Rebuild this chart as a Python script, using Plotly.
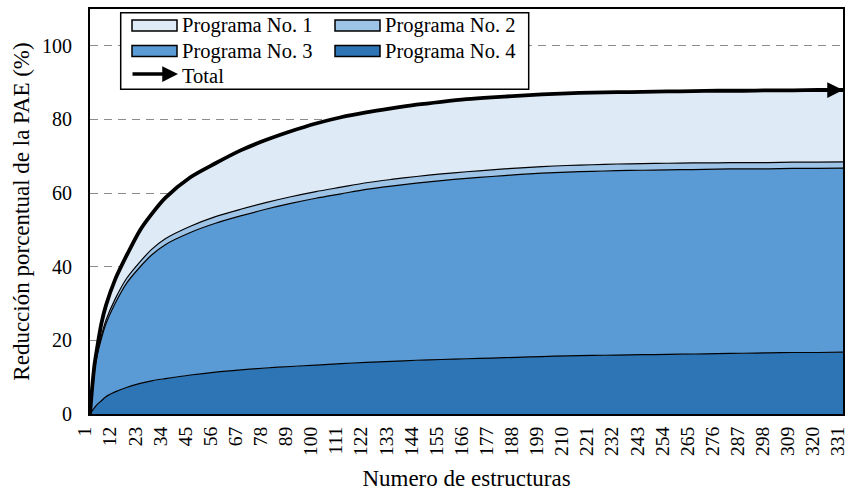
import plotly.graph_objects as go

# ---- data ----
n_estructuras = [1, 2, 3, 4, 6, 8, 12, 17, 23, 28, 34, 45, 56, 67, 78, 89, 100, 111, 122,
                 133, 144, 155, 166, 177, 188, 199, 210, 221, 232, 243, 254, 265, 276,
                 287, 298, 309, 320, 331]
total = [0, 7.5, 13.5, 17.5, 24.6, 29.5, 36.5, 43.0, 50.0, 54.3, 58.7, 64.3, 68.1, 71.6,
         74.4, 76.8, 78.9, 80.6, 81.9, 83.0, 84.0, 84.8, 85.5, 86.0, 86.4, 86.8, 87.1,
         87.3, 87.4, 87.5, 87.6, 87.7, 87.8, 87.8, 87.9, 87.9, 88.0, 88.0]
acum_p3 = [0, 6.5, 12.0, 15.5, 20.5, 24.5, 30.0, 35.5, 40.0, 43.2, 46.0, 49.3, 51.8, 53.8,
           55.6, 57.2, 58.6, 59.8, 61.0, 61.9, 62.7, 63.4, 64.0, 64.5, 65.0, 65.4, 65.7,
           65.9, 66.1, 66.2, 66.3, 66.4, 66.5, 66.6, 66.6, 66.7, 66.7, 66.8]
programa4 = [0, 0.9, 1.7, 2.5, 3.6, 4.7, 6.0, 7.2, 8.3, 9.0, 9.6, 10.6, 11.4, 12.0, 12.5,
             12.9, 13.3, 13.7, 14.0, 14.3, 14.6, 14.8, 15.0, 15.2, 15.4, 15.6, 15.8, 15.9,
             16.0, 16.1, 16.2, 16.3, 16.4, 16.5, 16.6, 16.7, 16.7, 16.8]
programa2 = [0, 0.3, 0.5, 0.6, 0.8, 1.0, 1.2, 1.3, 1.4, 1.5, 1.6, 1.7, 1.8, 1.8, 1.8, 1.8,
             1.8, 1.8, 1.8, 1.8, 1.8, 1.8, 1.8, 1.8, 1.8, 1.8, 1.8, 1.8, 1.8, 1.8, 1.8,
             1.8, 1.7, 1.7, 1.7, 1.7, 1.7, 1.7]
programa3 = [a - b for a, b in zip(acum_p3, programa4)]
programa1 = [t - a - p for t, a, p in zip(total, acum_p3, programa2)]

x_ticks = list(range(1, 332, 11))
y_ticks = [0, 20, 40, 60, 80, 100]

names = ["Programa No. 1", "Programa No. 2", "Programa No. 3", "Programa No. 4", "Total"]
colors = {"Programa No. 1": "#DEEAF6", "Programa No. 2": "#9DC3E6",
          "Programa No. 3": "#5B9BD5", "Programa No. 4": "#2E75B6"}

FONT = "Liberation Serif"

fig = go.Figure()
for nm, vals in [("Programa No. 4", programa4), ("Programa No. 3", programa3),
                 ("Programa No. 2", programa2), ("Programa No. 1", programa1)]:
    fig.add_trace(go.Scatter(
        x=n_estructuras, y=vals, name=nm, stackgroup="one", mode="lines",
        line=dict(color="black", width=1.2, shape="spline", smoothing=0.8),
        fillcolor=colors[nm], showlegend=False))

fig.add_trace(go.Scatter(
    x=n_estructuras, y=total, name="Total", mode="lines",
    line=dict(color="black", width=3.8, shape="spline", smoothing=0.8),
    showlegend=False))

# arrow at the end of the Total line
fig.add_annotation(x=n_estructuras[-1], y=total[-1], xref="x", yref="y", ax=-28, ay=0,
                   showarrow=True, arrowhead=2, arrowsize=0.9, arrowwidth=3.5,
                   arrowcolor="black", text="", standoff=0)

# ---- manual two-column legend ----
L, R, T, B = 90, 843, 9, 413.7
def xp(px):
    return (px - L) / (R - L)
def yp(py):
    return (B - py) / (B - T)

shapes = [dict(type="rect", xref="paper", yref="paper", x0=xp(120.7), x1=xp(528.7),
               y0=yp(12.7), y1=yp(89.3), line=dict(color="black", width=1.5),
               fillcolor="white", layer="above")]
legend_items = [("Programa No. 1", 132, 25.5), ("Programa No. 2", 335, 25.5),
                ("Programa No. 3", 132, 51), ("Programa No. 4", 335, 51)]
annotations = []
for nm, x0, yc in legend_items:
    shapes.append(dict(type="rect", xref="paper", yref="paper", x0=xp(x0), x1=xp(x0 + 45),
                       y0=yp(yc - 5.5), y1=yp(yc + 5.5), fillcolor=colors[nm],
                       line=dict(color="black", width=1.5), layer="above"))
    annotations.append(dict(xref="paper", yref="paper", x=xp(x0 + 48), y=yp(yc),
                            text=nm, showarrow=False, xanchor="left", yanchor="middle",
                            font=dict(family=FONT, size=20.5, color="black")))
annotations.append(dict(xref="paper", yref="paper", x=xp(180), y=yp(75.5), text=names[4],
                        showarrow=False, xanchor="left", yanchor="middle",
                        font=dict(family=FONT, size=20.5, color="black")))
annotations.append(dict(xref="paper", yref="paper", x=xp(178), y=yp(74), ax=-47, ay=0,
                        showarrow=True, arrowhead=2, arrowsize=0.9, arrowwidth=3.5,
                        arrowcolor="black", text="", standoff=0))
for a in annotations:
    fig.add_annotation(**a)

fig.update_layout(
    width=848, height=491,
    margin=dict(l=L, r=848 - R, t=T, b=491 - B),
    paper_bgcolor="white", plot_bgcolor="white",
    font=dict(family=FONT, size=20, color="black"),
    shapes=shapes,
)
fig.update_xaxes(
    range=[1, 331], tickvals=x_ticks, ticktext=[str(v) for v in x_ticks],
    tickangle=-90, showgrid=False, zeroline=False, automargin=False,
    ticklabeloverflow="allow", ticklabelshift=-5,
    showline=True, mirror=True, linecolor="black", linewidth=2,
    ticks="", ticklabelstandoff=3, tickfont=dict(size=19.5),
    title=dict(text="Numero de estructuras", font=dict(size=23), standoff=20),
)
fig.update_yaxes(
    range=[0, 110], tickvals=y_ticks, showgrid=True, gridcolor="#8c8c8c",
    griddash="8px,6px", gridwidth=1.3, zeroline=False, automargin=False,
    showline=True, mirror=True, linecolor="black", linewidth=2,
    ticks="", ticklabelstandoff=12, tickfont=dict(size=20),
    title=dict(text="Reducción porcentual de la PAE (%)", font=dict(size=23), standoff=6),
)

fig.write_html(
    "out.html",
    config={"responsive": False, "displayModeBar": False},
    post_script="document.body.style.margin='0';document.body.style.padding='0';"
                "document.body.style.overflow='hidden';",
)
